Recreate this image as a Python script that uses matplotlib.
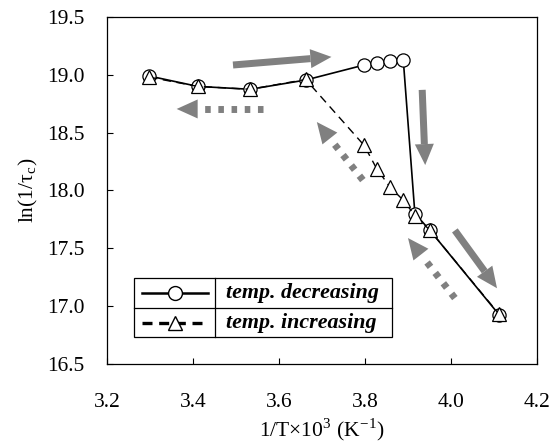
import numpy as np
import matplotlib
matplotlib.use('Agg')
import matplotlib.pyplot as plt
from matplotlib.patches import Polygon, Rectangle
from matplotlib.lines import Line2D

plt.rcParams['font.family'] = ['Liberation Serif', 'DejaVu Serif']
plt.rcParams['mathtext.fontset'] = 'stix'

# temp. decreasing (circles)
x_dec = [3.298, 3.411, 3.533, 3.662, 3.798, 3.829, 3.858, 3.889, 3.916, 3.950, 4.112]
y_dec = [18.99, 18.90, 18.875, 18.955, 19.085, 19.10, 19.12, 19.13, 17.80, 17.66, 16.925]

# temp. increasing (triangles)
x_inc = [3.298, 3.411, 3.533, 3.662, 3.798, 3.827, 3.858, 3.888, 3.917, 3.950, 4.112]
y_inc = [18.98, 18.90, 18.875, 18.96, 18.39, 18.19, 18.03, 17.92, 17.78, 17.66, 16.93]

xticks = [3.2, 3.4, 3.6, 3.8, 4.0, 4.2]
yticks = [16.5, 17.0, 17.5, 18.0, 18.5, 19.0, 19.5]

# arrows: (tail, tip, dotted?)
arrows = [
    ((3.493, 19.085), (3.722, 19.155), False),
    ((3.563, 18.705), (3.362, 18.705), True),
    ((3.933, 18.87), (3.940, 18.22), False),
    ((3.795, 18.09), (3.688, 18.592), True),
    ((4.009, 17.655), (4.107, 17.155), False),
    ((4.009, 17.07), (3.900, 17.589), True),
]

fig = plt.figure(figsize=(5.52, 4.44), dpi=100)
ax = fig.add_axes([107/552, 80/444, 430/552, 347/444])
ax.set_xlim(3.2, 4.2)
ax.set_ylim(16.5, 19.5)
ax.set_xticks(xticks)
ax.set_yticks(yticks)
ax.set_xticklabels(['%.1f' % v for v in xticks])
ax.set_yticklabels(['%.1f' % v for v in yticks])
ax.tick_params(direction='in', length=4, width=0.8, labelsize=15.5)
ax.tick_params(axis='x', pad=21)
ax.tick_params(axis='y', pad=16)
for s in ax.spines.values():
    s.set_linewidth(0.9)

ax.plot(x_dec, y_dec, '-', color='black', lw=1.2, marker='o', ms=9.5,
        mfc='white', mec='black', mew=0.9, zorder=3)
ax.plot(x_inc, y_inc, color='black', lw=1.0, ls=(0, (6, 4)), marker='^', ms=9.5,
        mfc='white', mec='black', mew=0.9, zorder=4)

ax.set_xlabel('1/T×10$^{\\mathregular{3}}$ (K$^{\\mathregular{-1}}$)', fontsize=15.5, labelpad=3)
ax.set_ylabel('ln(1/τ$_{\\mathregular{c}}$)', fontsize=15.5, labelpad=5)

fig.canvas.draw()
to_px = ax.transData
to_data = ax.transData.inverted()
gray = '#808080'
shaft_w = 7.0
head_w = 19.0
head_l = 21.0

for tail, tip, dotted in arrows:
    p0 = to_px.transform(tail)
    p1 = to_px.transform(tip)
    d = p1 - p0
    L = np.hypot(*d)
    u = d / L
    n = np.array([-u[1], u[0]])
    base = p1 - u * head_l
    head = [base + n * head_w / 2, p1, base - n * head_w / 2]
    ax.add_patch(Polygon(to_data.transform(head), closed=True, fc=gray, ec='none', zorder=2))
    if dotted:
        gap_end = base - u * 3
        pts = to_data.transform([p0, gap_end])
        ax.add_line(Line2D(pts[:, 0], pts[:, 1], color=gray, lw=5.0,
                           ls=(0, (0.8, 1.1)), solid_capstyle='butt',
                           dash_capstyle='butt', zorder=2))
    else:
        shaft = [p0 + n * shaft_w / 2, base + n * shaft_w / 2,
                 base - n * shaft_w / 2, p0 - n * shaft_w / 2]
        ax.add_patch(Polygon(to_data.transform(shaft), closed=True, fc=gray, ec='none', zorder=2))

# legend drawn as a boxed table
def px2ax(px, py):
    return ((px - 107) / 430, (364 - py) / 347)

x0, y0 = px2ax(134, 337)
x1, y1 = px2ax(392, 278)
ax.add_patch(Rectangle((x0, y0), x1 - x0, y1 - y0, transform=ax.transAxes,
                       fc='white', ec='black', lw=0.9, zorder=5))
xd, _ = px2ax(215, 0)
_, ym = px2ax(0, 307.5)
ax.plot([xd, xd], [y0, y1], transform=ax.transAxes, color='black', lw=0.9, zorder=6)
ax.plot([x0, x1], [ym, ym], transform=ax.transAxes, color='black', lw=0.9, zorder=6)

la, lb = px2ax(142, 0)[0], px2ax(208, 0)[0]
_, yr1 = px2ax(0, 293)
_, yr2 = px2ax(0, 323)
ax.plot([la, lb], [yr1, yr1], transform=ax.transAxes, color='black', lw=1.8, zorder=6)
ax.plot([(la + lb) / 2], [yr1], transform=ax.transAxes, marker='o', ms=10,
        mfc='white', mec='black', mew=1.0, zorder=7)
ax.plot([la, lb], [yr2, yr2], transform=ax.transAxes, color='black', lw=2.4,
        ls=(0, (3, 2)), zorder=6)
ax.plot([(la + lb) / 2], [yr2], transform=ax.transAxes, marker='^', ms=10,
        mfc='white', mec='black', mew=1.0, zorder=7)

tx, _ = px2ax(226, 0)
ax.text(tx, yr1, 'temp. decreasing', transform=ax.transAxes, fontsize=15.8,
        fontweight='bold', fontstyle='italic', va='center', ha='left', zorder=7)
ax.text(tx, yr2, 'temp. increasing', transform=ax.transAxes, fontsize=15.8,
        fontweight='bold', fontstyle='italic', va='center', ha='left', zorder=7)

fig.savefig('out.png', dpi=100)
